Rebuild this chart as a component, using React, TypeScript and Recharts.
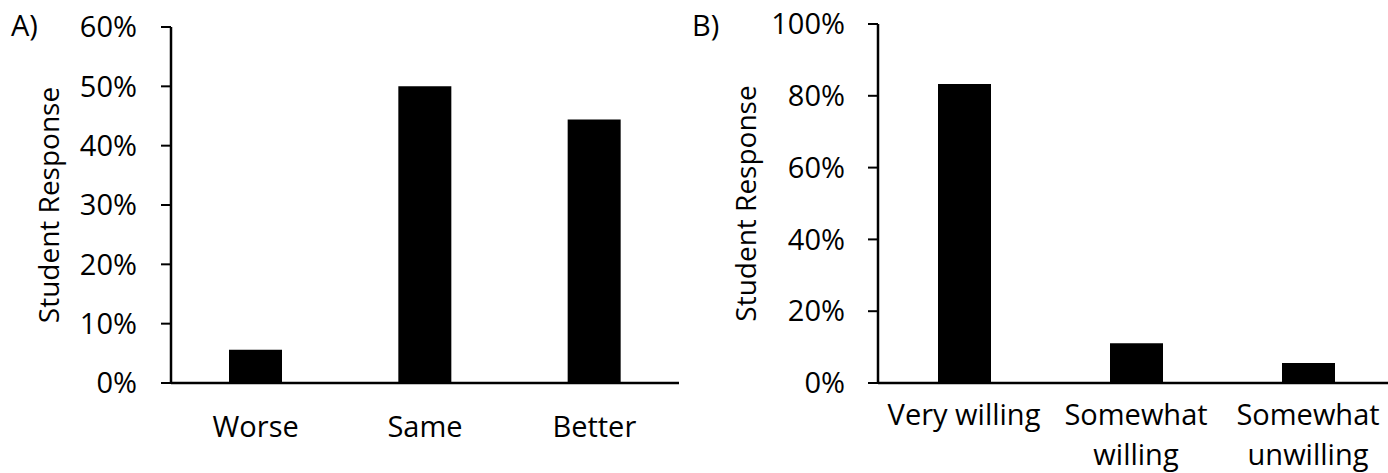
import { Bar, BarChart, Label, XAxis, YAxis } from 'recharts';

const FONT = '"Open Sans", "Noto Sans", sans-serif';
const FONT_SIZE = 29;

// Panel A: perceived learning compared to in-person
const changeCategories = ['Worse', 'Same', 'Better'];
const changeValues = [5.6, 50.0, 44.4];
const changeTicks = [0, 10, 20, 30, 40, 50, 60];

// Panel B: willingness to take another such course
const willingCategories = ['Very willing', 'Somewhat willing', 'Somewhat unwilling'];
const willingValues = [83.3, 11.1, 5.6];
const willingTicks = [0, 20, 40, 60, 80, 100];

const changeData = changeCategories.map((name, i) => ({ name, value: changeValues[i] }));
const willingData = willingCategories.map((name, i) => ({ name, value: willingValues[i] }));

const pct = (v: number) => `${v}%`;

let measureCtx: CanvasRenderingContext2D | null = null;
function textWidth(s: string) {
  if (!measureCtx) measureCtx = document.createElement('canvas').getContext('2d');
  if (!measureCtx) return s.length * FONT_SIZE * 0.55;
  measureCtx.font = `${FONT_SIZE}px ${FONT}`;
  return measureCtx.measureText(s).width;
}

// greedy word wrap, like Excel does for category labels
function wrap(label: string, maxWidth: number) {
  const lines: string[] = [];
  let cur = '';
  for (const w of label.split(' ')) {
    const next = cur ? `${cur} ${w}` : w;
    if (cur && textWidth(next) > maxWidth) {
      lines.push(cur);
      cur = w;
    } else {
      cur = next;
    }
  }
  if (cur) lines.push(cur);
  return lines;
}

function YTitle({ viewBox, gap }: { viewBox?: any; gap: number }) {
  if (!viewBox) return null;
  const x = viewBox.x + viewBox.width - gap;
  const y = viewBox.y + viewBox.height / 2;
  return (
    <text
      x={x}
      y={y}
      transform={`rotate(-90, ${x}, ${y})`}
      textAnchor="middle"
      dominantBaseline="central"
      fill="#000"
      fontSize={28}
      fontFamily={FONT}
    >
      Student Response
    </text>
  );
}

function CategoryTick(props: any) {
  const { x, y, payload, offset, wrapWidth } = props;
  const lines = wrap(String(payload.value), wrapWidth);
  return (
    <text x={x} y={y + offset} textAnchor="middle" fill="#000" fontSize={FONT_SIZE} fontFamily={FONT}>
      {lines.map((line, i) => (
        <tspan key={i} x={x} dy={i === 0 ? 0 : 40}>
          {line}
        </tspan>
      ))}
    </text>
  );
}

const yTick = { fill: '#000', fontSize: FONT_SIZE, fontFamily: FONT };
const axisLine = { stroke: '#000', strokeWidth: 2.5 };
const tickLine = { stroke: '#000', strokeWidth: 2 };

export default function App() {
  return (
    <div
      style={{
        position: 'fixed',
        left: 0,
        top: 0,
        width: 1388,
        height: 473,
        overflow: 'hidden',
        background: '#fff',
        fontFamily: FONT,
      }}
    >
      <div style={{ position: 'absolute', left: 11, top: 7, fontSize: FONT_SIZE, lineHeight: '36px' }}>A)</div>
      <div style={{ position: 'absolute', left: 692, top: 7, fontSize: FONT_SIZE, lineHeight: '36px' }}>B)</div>

      <div style={{ position: 'absolute', left: 0, top: 0 }}>
        <BarChart
          width={694}
          height={473}
          data={changeData}
          margin={{ top: 27, right: 15, left: 0, bottom: 0 }}
        >
          <XAxis
            dataKey="name"
            height={90}
            axisLine={axisLine}
            tickLine={false}
            interval={0}
            tick={<CategoryTick offset={46} wrapWidth={165} />}
          />
          <YAxis
            width={171}
            domain={[0, 60]}
            ticks={changeTicks}
            tickFormatter={pct}
            tick={yTick}
            tickSize={10}
            tickMargin={24}
            axisLine={axisLine}
            tickLine={tickLine}
          >
            <Label content={<YTitle gap={123} />} />
          </YAxis>
          <Bar dataKey="value" fill="#000" barSize={53} isAnimationActive={false} />
        </BarChart>
      </div>

      <div style={{ position: 'absolute', left: 694, top: 0 }}>
        <BarChart
          width={700}
          height={473}
          data={willingData}
          margin={{ top: 24, right: 0, left: 0, bottom: 0 }}
        >
          <XAxis
            dataKey="name"
            height={90}
            axisLine={axisLine}
            tickLine={false}
            interval={0}
            tick={<CategoryTick offset={34} wrapWidth={168} />}
          />
          <YAxis
            width={184}
            domain={[0, 100]}
            ticks={willingTicks}
            tickFormatter={pct}
            tick={yTick}
            tickSize={10}
            tickMargin={23}
            axisLine={axisLine}
            tickLine={tickLine}
          >
            <Label content={<YTitle gap={133} />} />
          </YAxis>
          <Bar dataKey="value" fill="#000" barSize={53} isAnimationActive={false} />
        </BarChart>
      </div>
    </div>
  );
}
